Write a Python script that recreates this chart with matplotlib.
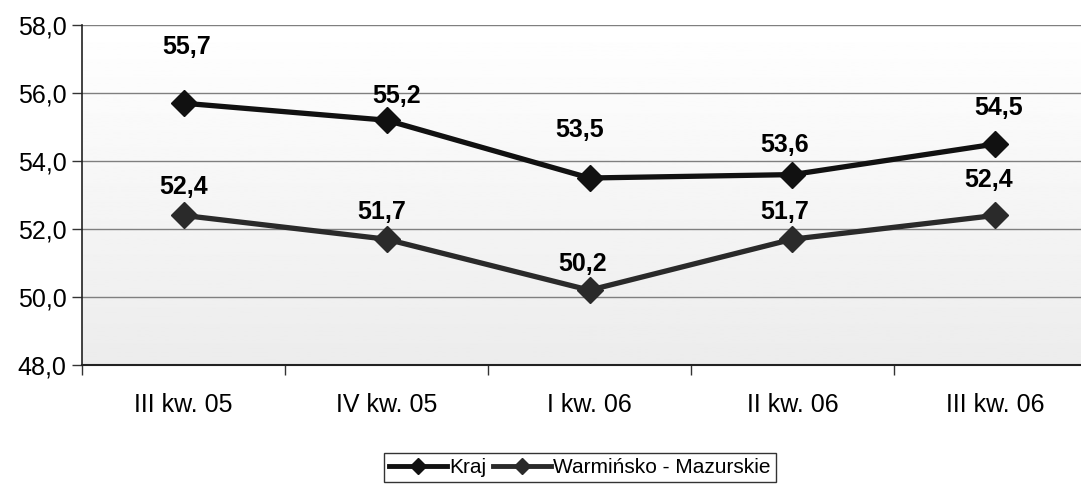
import numpy as np
import matplotlib.pyplot as plt
from matplotlib.lines import Line2D

plt.rcParams["font.family"] = ["Liberation Sans", "DejaVu Sans"]

categories = ["III kw. 05", "IV kw. 05", "I kw. 06", "II kw. 06", "III kw. 06"]
kraj = [55.7, 55.2, 53.5, 53.6, 54.5]
warm = [52.4, 51.7, 50.2, 51.7, 52.4]
series_names = ["Kraj", "Warmińsko - Mazurskie"]

# hand-placed label offsets (pixels), as in the original
kraj_offsets = [(3, 56), (10, 24), (-10, 48), (-8, 30), (3, 36)]
warm_offsets = [(0, 28), (-5, 27), (-7, 26), (-8, 27), (-7, 35)]

fig = plt.figure(figsize=(10.81, 4.86), dpi=100)
ax = fig.add_axes([82 / 1081, 121 / 486, 1015 / 1081, 340 / 486])

x = np.arange(len(categories))
ax.set_xlim(-0.5, len(categories) - 0.5)
ax.set_ylim(48, 58)

# gradient background: white at top to light grey at bottom
grad = np.linspace(1.0, 0.925, 256).reshape(-1, 1)
ax.imshow(grad, cmap="gray", vmin=0, vmax=1, aspect="auto",
          extent=[0, 1, 0, 1], transform=ax.transAxes, zorder=0)

yticks = np.arange(48, 58.1, 2)
for yv in yticks[1:]:
    ax.axhline(yv, color="#7f7f7f", lw=1.0, zorder=1)

colors = ["#111111", "#2a2a2a"]
ax.plot(x, kraj, color=colors[0], lw=3.8, marker="D", markersize=13.5, zorder=4)
ax.plot(x, warm, color=colors[1], lw=3.8, marker="D", markersize=13.5, zorder=3)

for xi, v, off in zip(x, kraj, kraj_offsets):
    ax.annotate(f"{v:.1f}".replace(".", ","), (xi, v), xytext=off,
                textcoords="offset pixels", ha="center", va="center",
                fontsize=18, fontweight="bold", zorder=5)
for xi, v, off in zip(x, warm, warm_offsets):
    ax.annotate(f"{v:.1f}".replace(".", ","), (xi, v), xytext=off,
                textcoords="offset pixels", ha="center", va="center",
                fontsize=18, fontweight="bold", zorder=5)

ax.set_yticks(yticks)
ax.set_yticklabels([f"{v:.1f}".replace(".", ",") for v in yticks], fontsize=18)
ax.set_xticks(x)
ax.set_xticklabels(categories, fontsize=18)
ax.set_xticks(np.arange(-0.5, len(categories)), minor=True)
ax.tick_params(axis="x", which="major", length=0, pad=20)
ax.tick_params(axis="x", which="minor", length=7, width=1, color="#333333", direction="out")
ax.tick_params(axis="y", length=7, width=1, color="#333333", direction="out", pad=4)

for s in ["top", "right"]:
    ax.spines[s].set_visible(False)
ax.spines["left"].set_color("#222222")
ax.spines["bottom"].set_color("#222222")
ax.spines["left"].set_linewidth(1.2)
ax.spines["bottom"].set_linewidth(1.5)

handles = [Line2D([], [], color=c, lw=3.5, marker="D", markersize=8) for c in colors]
leg = fig.legend(handles, series_names, loc="upper center", bbox_to_anchor=(580 / 1081, 33 / 486),
                 ncol=2, fontsize=15, frameon=True, fancybox=False, handlelength=2.8,
                 handletextpad=0.1, columnspacing=0.3, borderpad=0.25, borderaxespad=0)
leg.get_frame().set_edgecolor("#000000")
leg.get_frame().set_linewidth(1.0)

fig.savefig("out.png", dpi=100)
